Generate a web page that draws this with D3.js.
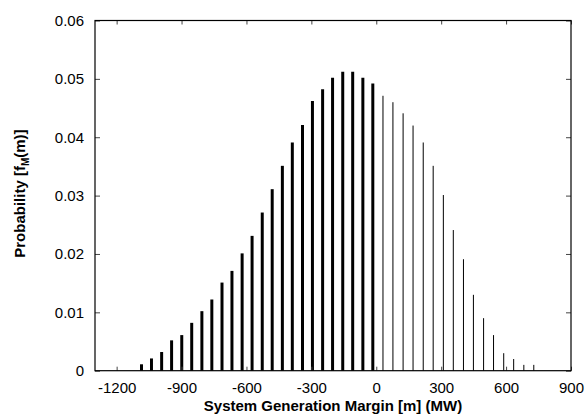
<!DOCTYPE html>
<html>
<head>
<meta charset="utf-8">
<title>System Generation Margin</title>
<script src="https://cdn.jsdelivr.net/npm/d3@7"></script>
<style>
  body { margin: 0; background: #fff; }
  text { font-family: "Liberation Sans", Arial, Helvetica, sans-serif; }
</style>
</head>
<body>
<div id="chart"></div>
<script>
  // margin values (MW) of each impulse
  var margin = [-1085, -1039, -992, -946, -899, -853, -806, -760, -713, -667,
                -620, -574, -527, -481, -434, -388, -341, -295, -248, -202,
                -155, -109, -62, -16,
                31, 77, 124, 170, 217, 263, 310, 356, 403, 449,
                496, 542, 589, 635, 682, 728];
  // probability f_M(m) for each margin value
  var prob = [0.0011, 0.0021, 0.0032, 0.0052, 0.0061, 0.0082, 0.0102, 0.0122, 0.0151, 0.0171,
              0.0201, 0.0231, 0.0271, 0.0311, 0.0351, 0.0391, 0.0421, 0.0462, 0.0482, 0.0502,
              0.0512, 0.0512, 0.0502, 0.0492,
              0.0471, 0.0460, 0.0441, 0.0420, 0.0391, 0.0351, 0.0301, 0.0241, 0.0191, 0.0130,
              0.0090, 0.0061, 0.0030, 0.0020, 0.0010, 0.0010];
  var xTicks = [-1200, -900, -600, -300, 0, 300, 600, 900];
  var yTicks = [0, 0.01, 0.02, 0.03, 0.04, 0.05, 0.06];

  var W = 586, H = 418;
  var plotL = 95, plotR = 571, plotT = 20.5, plotB = 370.7;

  var x = d3.scaleLinear().domain([-1300, 900]).range([plotL, plotR]);
  var y = d3.scaleLinear().domain([0, 0.06]).range([plotB, plotT]);

  var svg = d3.select("#chart").append("svg")
      .attr("width", W)
      .attr("height", H);

  var data = margin.map(function(m, i) { return { m: m, p: prob[i] }; });

  // impulses: deficit side thick, surplus side thin
  svg.selectAll(".bar")
      .data(data)
      .enter()
      .append("line")
      .attr("class", "bar")
      .attr("x1", function(d) { return x(d.m); })
      .attr("x2", function(d) { return x(d.m); })
      .attr("y1", y(0))
      .attr("y2", function(d) { return y(d.p); })
      .attr("stroke", "#000")
      .attr("stroke-width", function(d) { return d.m < 0 ? 3 : 1; });

  // axes with inward ticks
  var fmtX = function(d) { return String(d); };
  var fmtY = function(d) { return d === 0 ? "0" : d3.format(".2f")(d); };

  var gx = svg.append("g")
      .attr("transform", "translate(0," + plotB + ")")
      .call(d3.axisBottom(x).tickValues(xTicks).tickSizeInner(-4).tickSizeOuter(0).tickPadding(12).tickFormat(fmtX));
  var gx2 = svg.append("g")
      .attr("transform", "translate(0," + plotT + ")")
      .call(d3.axisTop(x).tickValues(xTicks).tickSizeInner(-4).tickSizeOuter(0).tickFormat(""));
  var gy = svg.append("g")
      .attr("transform", "translate(" + plotL + ",0)")
      .call(d3.axisLeft(y).tickValues(yTicks).tickSizeInner(-5).tickSizeOuter(0).tickPadding(11).tickFormat(fmtY));
  var gy2 = svg.append("g")
      .attr("transform", "translate(" + plotR + ",0)")
      .call(d3.axisRight(y).tickValues(yTicks).tickSizeInner(-5).tickSizeOuter(0).tickFormat(""));

  [gx, gx2, gy, gy2].forEach(function(g) {
    g.select(".domain").remove();
    g.selectAll("line").attr("stroke", "#444");
    g.selectAll("text")
        .attr("fill", "#000")
        .attr("font-size", "15px")
        .attr("font-family", "Liberation Sans, Arial, sans-serif");
  });

  // border box
  svg.append("rect")
      .attr("x", plotL)
      .attr("y", plotT)
      .attr("width", plotR - plotL)
      .attr("height", plotB - plotT)
      .attr("fill", "none")
      .attr("stroke", "#000")
      .attr("stroke-width", 1.2);

  // axis titles
  svg.append("text")
      .attr("x", (plotL + plotR) / 2)
      .attr("y", 411)
      .attr("text-anchor", "middle")
      .attr("font-size", "15px")
      .attr("font-weight", "bold")
      .text("System Generation Margin [m] (MW)");

  var yt = svg.append("text")
      .attr("transform", "translate(25," + ((plotT + plotB) / 2 - 2) + ") rotate(-90)")
      .attr("text-anchor", "middle")
      .attr("font-size", "15px")
      .attr("font-weight", "bold");
  yt.append("tspan").text("Probability [f");
  yt.append("tspan").attr("font-size", "10px").attr("dy", 4).text("M");
  yt.append("tspan").attr("dy", -4).text("(m)]");
</script>
</body>
</html>
